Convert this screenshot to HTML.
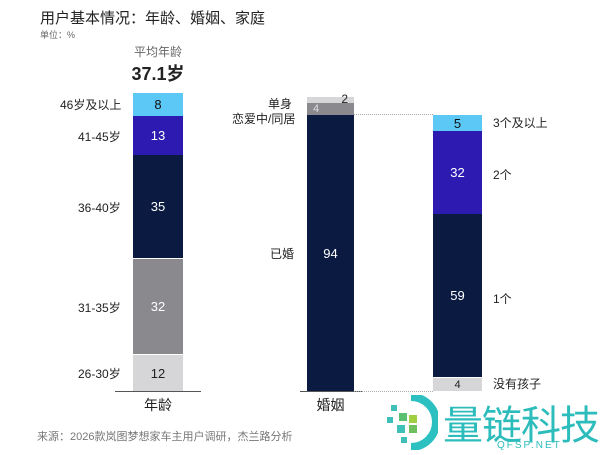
<!DOCTYPE html><html><head><meta charset="utf-8"><style>
body{margin:0;width:600px;height:455px;background:#fff;position:relative;overflow:hidden;font-family:"Liberation Sans","Noto Sans CJK SC",sans-serif;color:#222}
.a{position:absolute;white-space:nowrap}
.s{position:absolute;display:flex;align-items:center;justify-content:center;font-size:13px}
.l{position:absolute;font-size:12px;white-space:nowrap}
</style></head><body>
<div class="a" style="left:40px;top:7px;font-size:15px">用户基本情况：年龄、婚姻、家庭</div>
<div class="a" style="left:40px;top:28px;font-size:9px;color:#666">单位：%</div>
<div class="a" style="left:133px;top:43px;width:50px;text-align:center;font-size:12px;color:#666">平均年龄</div>
<div class="a" style="left:118px;top:60px;width:80px;text-align:center;font-size:18px;font-weight:bold">37.1岁</div>
<div class="s" style="left:133px;top:93px;width:50px;height:23px;background:#5bc8f5;color:#111">8</div>
<div class="s" style="left:133px;top:116px;width:50px;height:39px;background:#2d1ab0;color:#fff">13</div>
<div class="s" style="left:133px;top:155px;width:50px;height:103px;background:#0a1a40;color:#fff">35</div>
<div class="s" style="left:133px;top:259px;width:50px;height:95px;background:#8a8a8e;color:#fff">32</div>
<div class="s" style="left:133px;top:355px;width:50px;height:36px;background:#d6d6d8;color:#222">12</div>
<div class="a" style="left:115px;top:391px;width:86px;height:1px;background:#555"></div>
<div class="l" style="left:60px;top:96px">46岁及以上</div>
<div class="l" style="left:78px;top:128px">41-45岁</div>
<div class="l" style="left:78px;top:199px">36-40岁</div>
<div class="l" style="left:78px;top:299px">31-35岁</div>
<div class="l" style="left:78px;top:365px">26-30岁</div>
<div class="a" style="left:133px;top:395px;width:50px;text-align:center;font-size:14px">年龄</div>
<div class="s" style="left:307px;top:97px;width:47px;height:6px;background:#d6d6d8;font-size:12px;justify-content:flex-end"><span style="position:relative;top:-1px;right:6px">2</span></div>
<div class="s" style="left:307px;top:103px;width:47px;height:12px;background:#8a8a8e;color:#ddd;font-size:11px;justify-content:flex-start"><span style="margin-left:6px">4</span></div>
<div class="s" style="left:307px;top:115px;width:47px;height:276px;background:#0a1a40;color:#fff">94</div>
<div class="a" style="left:300px;top:391px;width:62px;height:1px;background:#555"></div>
<div class="l" style="left:268px;top:95px">单身</div>
<div class="l" style="left:232px;top:110px">恋爱中/同居</div>
<div class="l" style="left:270px;top:245px">已婚</div>
<div class="a" style="left:307px;top:395px;width:47px;text-align:center;font-size:14px">婚姻</div>
<div class="a" style="left:354px;top:114px;width:79px;border-top:1px dotted #aaa"></div>
<div class="a" style="left:354px;top:391px;width:79px;border-top:1px dotted #aaa"></div>
<div class="s" style="left:433px;top:115px;width:49px;height:16px;background:#5bc8f5;color:#111">5</div>
<div class="s" style="left:433px;top:131px;width:49px;height:83px;background:#2d1ab0;color:#fff">32</div>
<div class="s" style="left:433px;top:214px;width:49px;height:163px;background:#0a1a40;color:#fff">59</div>
<div class="s" style="left:433px;top:378px;width:49px;height:13px;background:#d6d6d8;font-size:11px">4</div>
<div class="l" style="left:493px;top:114px">3个及以上</div>
<div class="l" style="left:493px;top:166px">2个</div>
<div class="l" style="left:493px;top:290px">1个</div>
<div class="l" style="left:493px;top:375px">没有孩子</div>
<div class="a" style="left:37px;top:428px;font-size:11px;color:#777">来源：2026款岚图梦想家车主用户调研，杰兰路分析</div>
<svg class="a" style="left:383px;top:395px" width="55" height="55">
<rect x="8" y="10" width="6" height="6" fill="#3cc0b8"/><rect x="16" y="18" width="8" height="8" fill="#5ac070"/><rect x="4" y="22" width="6" height="6" fill="#3cc0b8"/><rect x="26" y="20" width="8" height="8" fill="#a0d040"/><rect x="14" y="30" width="8" height="8" fill="#3cc0b8"/><rect x="26" y="30" width="8" height="8" fill="#70c060"/><rect x="18" y="42" width="6" height="6" fill="#3cc0b8"/>
<path d="M28 2 A24 24 0 0 1 28 52" stroke="#2cc0c0" stroke-width="8" fill="none"/></svg>
<div class="a" style="left:443px;top:393px;font-size:40px;color:#2cbcbc;font-family:'Noto Sans CJK SC',sans-serif;letter-spacing:-1px">量链科技</div>
<div class="a" style="left:497px;top:440px;font-size:10px;color:#2cbcbc;letter-spacing:2px">QFSP.NET</div>
</body></html>
